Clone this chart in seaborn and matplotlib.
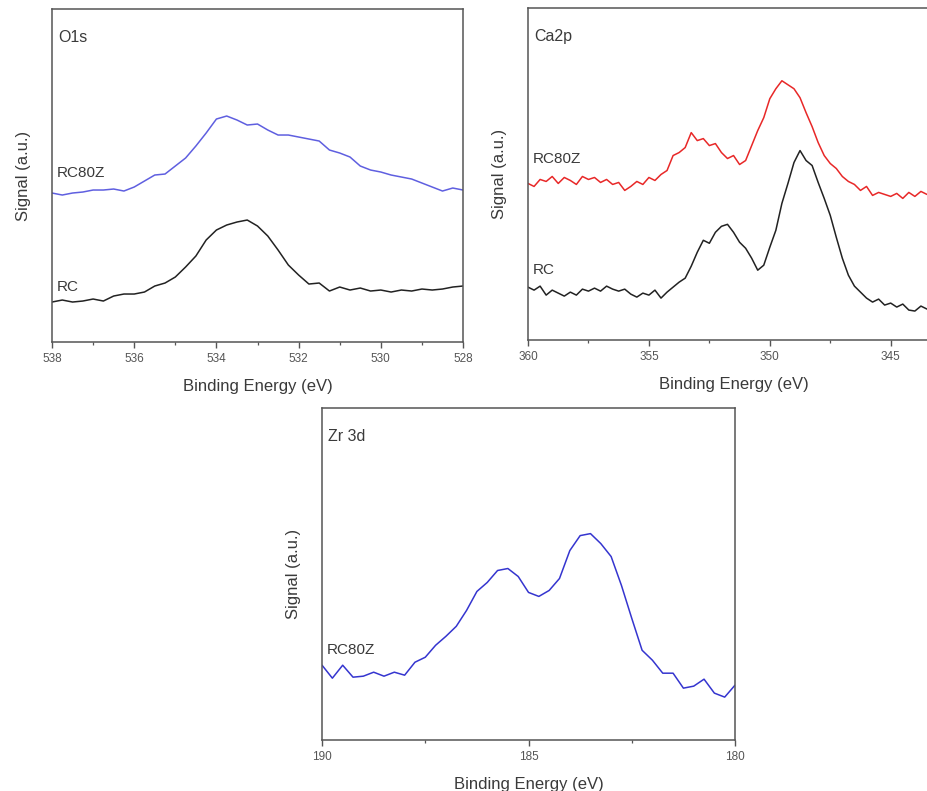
import numpy as np
import pandas as pd
import seaborn as sns
import matplotlib.pyplot as plt
from matplotlib.ticker import MultipleLocator

# O1s panel, 0.25 eV steps from 538 down to 528
o1s_energy = [538.0 - 0.25 * i for i in range(41)]
o1s_rc80z = [149, 147, 149, 150, 152, 152, 153, 151, 155, 161, 167, 168, 176, 184, 196, 209,
             223, 226, 222, 217, 218, 212, 207, 207, 205, 203, 201, 192, 189, 185, 176, 172,
             170, 167, 165, 163, 159, 155, 151, 154, 152]
o1s_rc = [40, 42, 40, 41, 43, 41, 46, 48, 48, 50, 56, 59, 65, 75, 86, 102, 112, 117, 120, 122,
          116, 106, 92, 77, 67, 58, 59, 51, 55, 52, 54, 51, 52, 50, 52, 51, 53, 52, 53, 55, 56]

# Ca2p panel, 0.25 eV steps from 360 down to 343.5
ca2p_energy = [360.0 - 0.25 * i for i in range(67)]
ca2p_rc80z = [157, 154, 161, 159, 164, 157, 163, 160, 156, 164, 161, 163, 158, 161, 156, 158,
              150, 154, 159, 156, 163, 160, 166, 170, 185, 188, 193, 208, 200, 202, 195, 197,
              188, 182, 185, 176, 180, 195, 210, 223, 242, 252, 260, 256, 252, 243, 228, 214,
              198, 185, 177, 172, 164, 159, 156, 150, 154, 145, 148, 146, 144, 147, 142, 148,
              144, 149, 146]
ca2p_rc = [53, 50, 54, 45, 50, 47, 44, 48, 45, 51, 49, 52, 49, 54, 51, 49, 51, 46, 43, 47, 45,
           50, 42, 48, 53, 58, 62, 74, 88, 100, 97, 108, 114, 116, 108, 98, 92, 82, 70, 75, 93,
           110, 137, 157, 178, 190, 180, 175, 158, 142, 125, 103, 82, 65, 54, 48, 42, 38, 41,
           35, 37, 33, 36, 30, 29, 34, 31]

# Zr 3d panel, 0.25 eV steps from 190 down to 180
zr3d_energy = [190.0 - 0.25 * i for i in range(41)]
zr3d_rc80z = [75, 62, 75, 63, 64, 68, 64, 68, 65, 78, 83, 95, 104, 114, 130, 149, 158, 170, 172,
              164, 148, 144, 150, 162, 190, 205, 207, 197, 184, 155, 122, 90, 80, 67, 67, 52,
              54, 61, 47, 43, 55]

BLUE_LIGHT = "#5f5fe0"
BLUE = "#3535cf"
RED = "#e82828"
BLACK = "#222222"
TXT = "#3a3a3a"

sns.set_theme(style="ticks")
plt.rcParams["font.family"] = ["Liberation Sans", "DejaVu Sans"]
plt.rcParams["axes.edgecolor"] = "#555555"
plt.rcParams["axes.linewidth"] = 1.1

fig = plt.figure(figsize=(9.27, 7.91), dpi=100)
ax1 = fig.add_axes([0.0561, 0.5676, 0.4434, 0.421])
ax2 = fig.add_axes([0.5696, 0.5702, 0.4434, 0.4197])
ax3 = fig.add_axes([0.3474, 0.0645, 0.4455, 0.4197])


def draw(ax, energy, series, xlim, major, minor, title, labels):
    for (name, vals, color), ly in zip(series, labels):
        df = pd.DataFrame({"energy": energy, "signal": vals})
        sns.lineplot(data=df, x="energy", y="signal", ax=ax, color=color,
                     linewidth=1.1, estimator=None)
        ax.text(0.012, ly, name, transform=ax.transAxes, fontsize=11,
                color=TXT, va="center", ha="left")
    ax.set_xlim(*xlim)
    ax.set_ylim(0, 333)
    ax.xaxis.set_major_locator(MultipleLocator(major))
    ax.xaxis.set_minor_locator(MultipleLocator(minor))
    ax.tick_params(axis="x", which="major", direction="out", length=4, width=1,
                   labelsize=8.5, labelcolor="#555555", pad=4, color="#555555")
    ax.tick_params(axis="x", which="minor", direction="out", length=2.5, width=0.9,
                   color="#555555")
    ax.set_yticks([])
    ax.set_xlabel("Binding Energy (eV)", fontsize=12, color=TXT, labelpad=10)
    ax.set_ylabel("Signal (a.u.)", fontsize=12, color=TXT, labelpad=15)
    ax.text(0.015, 0.915, title, transform=ax.transAxes, fontsize=11.5,
            color=TXT, va="center", ha="left")
    for s in ax.spines.values():
        s.set_visible(True)


draw(ax1, o1s_energy, [("RC80Z", o1s_rc80z, BLUE_LIGHT), ("RC", o1s_rc, BLACK)],
     (538, 528), 2, 1, "O1s", [0.507, 0.165])
draw(ax2, ca2p_energy, [("RC80Z", ca2p_rc80z, RED), ("RC", ca2p_rc, BLACK)],
     (360, 343), 5, 2.5, "Ca2p", [0.545, 0.21])
draw(ax3, zr3d_energy, [("RC80Z", zr3d_rc80z, BLUE)],
     (190, 180), 5, 2.5, "Zr 3d", [0.271])

fig.savefig("out.png", dpi=100)
